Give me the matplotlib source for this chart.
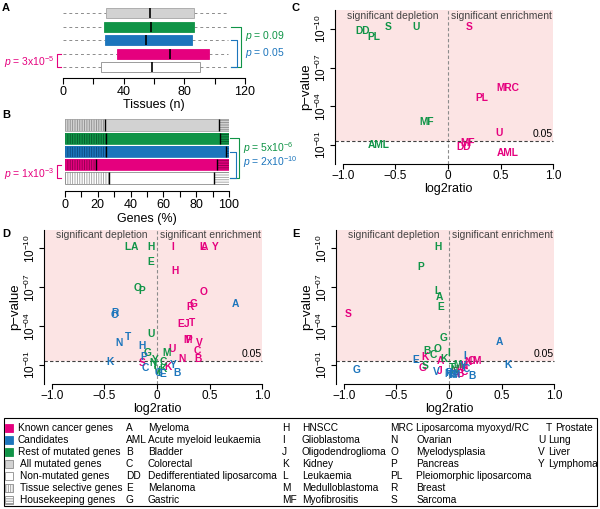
import matplotlib.pyplot as plt
from matplotlib.patches import Rectangle
from matplotlib.ticker import NullLocator
import numpy as np

plt.rcParams['font.family'] = ['Liberation Sans', 'DejaVu Sans']
plt.rcParams['mathtext.fontset'] = 'custom'
plt.rcParams['mathtext.rm'] = 'Liberation Sans'
plt.rcParams['mathtext.it'] = 'Liberation Sans:italic'
plt.rcParams['mathtext.bf'] = 'Liberation Sans:bold'
plt.rcParams['hatch.linewidth'] = 0.6
plt.rcParams['axes.linewidth'] = 0.8

W, H = 600, 509
PINK = '#E5007E'
BLUE = '#1C75BC'
GREEN = '#109447'
GREY = '#D2D2D2'
SHADE = '#FCE4E4'

# groups, top to bottom in panels A and B
group_names = ['All mutated genes', 'Rest of mutated genes', 'Candidates',
               'Known cancer genes', 'Non-mutated genes']
group_fill = [GREY, GREEN, BLUE, PINK, 'white']
group_edge = ['#A5A5A5', GREEN, BLUE, PINK, '#8C8C8C']
group_hatch = ['#8C8C8C', '#05582A', '#0B477D', '#8A004C', '#9C9C9C']

# A: tissues (n) in which the genes are expressed
tissue_q1 = [28.4, 27.2, 27.9, 35.4, 25.3]
tissue_med = [57.4, 57.8, 54.5, 70.8, 58.7]
tissue_q3 = [86.5, 86.5, 85.0, 96.5, 90.6]
tissue_min = [0, 0, 0, 0, 0]
tissue_max = [109, 109, 109, 109, 109]

# B: tissue selective / housekeeping share (%)
selective_pct = [24.4, 24.8, 25.0, 18.9, 26.6]
housekeeping_pct = [5.9, 5.5, 2.0, 7.5, 9.1]

a_pvals = ['0.09', '0.05', '3x10$^{-5}$']
b_pvals = ['5x10$^{-6}$', '2x10$^{-10}$', '1x10$^{-3}$']

# C: (labels, log2ratio, -log10 p)
c_known_lab = ['S', 'MRC', 'PL', 'U', 'MF', 'DD', 'AML']
c_known_x = [0.20, 0.57, 0.32, 0.49, 0.19, 0.15, 0.57]
c_known_y = [10.17, 5.44, 4.67, 1.90, 1.13, 0.82, 0.36]
c_rest_lab = ['DD', 'PL', 'S', 'U', 'MF', 'AML']
c_rest_x = [-0.81, -0.71, -0.57, -0.30, -0.20, -0.66]
c_rest_y = [9.84, 9.40, 10.17, 10.17, 2.81, 1.00]

# D
d_known_lab = ['I', 'L', 'A', 'Y', 'H', 'O', 'G', 'R', 'E', 'J', 'T', 'M', 'P',
               'V', 'C', 'U', 'N', 'B', 'S', 'K']
d_known_x = [0.146, 0.435, 0.448, 0.552, 0.171, 0.44, 0.346, 0.314, 0.226, 0.283,
             0.33, 0.29, 0.305, 0.40, 0.384, 0.146, 0.235, 0.387, -0.146, 0.108]
d_known_y = [10.1, 10.1, 10.1, 10.1, 8.23, 6.64, 5.67, 5.49, 4.13, 4.2,
             4.25, 2.92, 2.92, 2.72, 2.1, 2.2, 1.44, 1.44, 1.13, 0.87]
d_rest_lab = ['L', 'A', 'H', 'E', 'O', 'P', 'U', 'M', 'G', 'Y', 'C', 'N', 'T',
              'K', 'V', 'I']
d_rest_x = [-0.283, -0.216, -0.057, -0.057, -0.187, -0.146, -0.057, 0.092, -0.092,
            -0.019, 0.06, -0.035, -0.02, 0.054, 0.0, 0.02]
d_rest_y = [10.1, 10.1, 10.1, 8.95, 6.9, 6.69, 3.38, 1.95, 1.9,
            1.38, 1.25, 1.13, 0.95, 0.67, 0.55, 0.4]
d_cand_lab = ['A', 'R', 'O', 'T', 'N', 'H', 'P', 'K', 'C', 'Y', 'B', 'G', 'E']
d_cand_x = [0.743, -0.40, -0.40, -0.273, -0.362, -0.146, -0.13, -0.448, -0.114,
            0.155, 0.187, 0.013, 0.05]
d_cand_y = [5.67, 4.98, 4.86, 3.13, 2.72, 2.46, 1.64, 1.25, 0.79,
            1.0, 0.36, 0.36, 0.3]

# E
e_known_lab = ['S', 'K', 'A', 'G', 'J', 'M', 'O', 'N', 'H', 'U', 'I', 'B', 'E', 'C']
e_known_x = [-0.96, -0.229, -0.086, -0.254, -0.092, 0.264, 0.216, 0.184, 0.14,
             0.12, 0.08, 0.105, 0.06, 0.15]
e_known_y = [4.93, 1.64, 1.33, 0.75, 0.56, 1.33, 1.33, 1.25, 0.95,
             0.8, 0.6, 0.31, 0.45, 0.5]
e_rest_lab = ['H', 'P', 'L', 'A', 'E', 'G', 'O', 'B', 'C', 'I', 'K', 'S', 'M', 'T', 'N']
e_rest_x = [-0.108, -0.27, -0.111, -0.095, -0.076, -0.054, -0.111, -0.212, -0.15,
            -0.007, -0.048, -0.229, 0.08, 0.03, 0.05]
e_rest_y = [10.07, 8.58, 6.68, 6.22, 5.45, 3.06, 2.23, 2.05, 1.79,
            1.93, 1.46, 0.95, 1.02, 0.8, 0.6]
e_cand_lab = ['A', 'K', 'G', 'E', 'I', 'V', 'C', 'Y', 'B', 'N', 'T', 'U', 'M', 'H', 'R']
e_cand_x = [0.476, 0.565, -0.88, -0.314, 0.152, -0.117, 0.162, 0.136, 0.216,
            -0.01, 0.02, 0.04, 0.06, 0.03, 0.0]
e_cand_y = [2.75, 1.02, 0.61, 1.41, 1.67, 0.48, 0.69, 0.95, 0.18,
            0.3, 0.25, 0.3, 0.22, 0.2, 0.38]

key_labels = ['Known cancer genes', 'Candidates', 'Rest of mutated genes',
              'All mutated genes', 'Non-mutated genes', 'Tissue selective genes',
              'Housekeeping genes']
abbr_1 = ['A', 'AML', 'B', 'C', 'DD', 'E', 'G']
name_1 = ['Myeloma', 'Acute myeloid leukaemia', 'Bladder', 'Colorectal',
          'Dedifferentiated liposarcoma', 'Melanoma', 'Gastric']
abbr_2 = ['H', 'I', 'J', 'K', 'L', 'M', 'MF']
name_2 = ['HNSCC', 'Glioblastoma', 'Oligodendroglioma', 'Kidney', 'Leukaemia',
          'Medulloblastoma', 'Myofibrositis']
abbr_3 = ['MRC', 'N', 'O', 'P', 'PL', 'R', 'S']
name_3 = ['Liposarcoma myoxyd/RC', 'Ovarian', 'Myelodysplasia', 'Pancreas',
          'Pleiomorphic liposarcoma', 'Breast', 'Sarcoma']
abbr_4 = ['T', 'U', 'V', 'Y']
name_4 = ['Prostate', 'Lung', 'Liver', 'Lymphoma']


def px_axes(fig, x0, y0, x1, y1):
    return fig.add_axes([x0 / W, 1 - y1 / H, (x1 - x0) / W, (y1 - y0) / H])


def bracket(ax, x, x_in, k0, k1, color):
    ax.plot([x_in, x, x, x_in], [k0, k0, k1, k1], color=color, lw=0.8,
            clip_on=False)


def bottom_axis(ax, ticks, labels, xlabel):
    for s in ['left', 'top', 'right']:
        ax.spines[s].set_visible(False)
    ax.set_yticks([])
    ax.set_xticks(ticks, labels)
    ax.tick_params(axis='x', labelsize=9, length=4, width=0.8, pad=2)
    ax.set_xlabel(xlabel, fontsize=9, labelpad=1)


fig = plt.figure(figsize=(6, 5.09), dpi=100)
rows = np.arange(1, 6)

# ---- A
axA = px_axes(fig, 63, 4, 245, 77.6)
axA.set_xlim(0, 120)
axA.set_ylim(5.75, 0.3)
for k, fc, ec, q1, md, q3, lo, hi in zip(rows, group_fill, group_edge, tissue_q1,
                                         tissue_med, tissue_q3, tissue_min, tissue_max):
    axA.hlines(k, lo, q1, colors='#8C8C8C', linestyles=(0, (3, 3)), lw=0.7)
    axA.hlines(k, q3, hi, colors='#8C8C8C', linestyles=(0, (3, 3)), lw=0.7)
    axA.barh(k, q3 - q1, left=q1, height=0.74, facecolor=fc, edgecolor=ec,
             lw=0.6, zorder=2)
    axA.vlines(md, k - 0.37, k + 0.37, colors='black', lw=1.2, zorder=3)
bottom_axis(axA, np.arange(0, 121, 20), ['0', '', '40', '', '80', '', '120'],
            'Tissues (n)')
bracket(axA, 117.5, 111, 2, 5, GREEN)
bracket(axA, 114.5, 111, 3, 5, BLUE)
bracket(axA, -4, -1.3, 4, 5, PINK)
axA.text(120, 2.7, '$p$ = ' + a_pvals[0], color=GREEN, fontsize=7.5, va='center')
axA.text(120, 3.9, '$p$ = ' + a_pvals[1], color=BLUE, fontsize=7.5, va='center')
axA.text(-5.5, 4.6, '$p$ = ' + a_pvals[2], color=PINK, fontsize=7.5, va='center',
         ha='right')

# ---- B
axB = px_axes(fig, 65, 116, 229, 191)
axB.set_xlim(0, 100)
axB.set_ylim(5.98, 0.32)
for k, fc, ec, hc, sel, hk in zip(rows, group_fill, group_edge, group_hatch,
                                  selective_pct, housekeeping_pct):
    mid = 100 - sel - hk
    axB.barh(k, sel, left=0, height=0.86, facecolor=fc, edgecolor=hc,
             hatch='|||||||', lw=0)
    axB.barh(k, mid, left=sel, height=0.86, facecolor=fc, lw=0)
    axB.barh(k, hk, left=100 - hk, height=0.86, facecolor=fc, edgecolor=hc,
             hatch='-------', lw=0)
    axB.barh(k, 100, left=0, height=0.86, fill=False, edgecolor=ec, lw=0.6)
    axB.vlines([sel, 100 - hk], k - 0.43, k + 0.43, colors='black', lw=1.0)
bottom_axis(axB, np.arange(0, 101, 10),
            ['0', '', '20', '', '40', '', '60', '', '80', '', '100'], 'Genes (%)')
bracket(axB, 106.1, 100.8, 2, 5, GREEN)
bracket(axB, 104, 100.8, 3, 5, BLUE)
bracket(axB, -4.9, -2.4, 4, 5, PINK)
axB.text(108.5, 2.74, '$p$ = ' + b_pvals[0], color=GREEN, fontsize=7.5, va='center')
axB.text(108.5, 3.8, '$p$ = ' + b_pvals[1], color=BLUE, fontsize=7.5, va='center')
axB.text(-6.3, 4.7, '$p$ = ' + b_pvals[2], color=PINK, fontsize=7.5, va='center',
         ha='right')


# ---- volcano panels
def volcano(ax, series):
    ax.set_yscale('log')
    ax.set_xlim(-1.075, 1.075)
    ax.set_ylim(10 ** 0.44, 10 ** -11.44)
    frac = 2.075 / 2.15
    ax.axhspan(10 ** -11.44, 0.05, xmin=0, xmax=frac, color=SHADE, lw=0, zorder=0)
    ax.axvline(0, color='#8C8C8C', lw=0.8, ls=(0, (3, 2)), zorder=1)
    ax.axhline(0.05, xmin=0, xmax=frac, color='#404040', lw=0.8, ls=(0, (3, 2)),
               zorder=1)
    for labs, xs, ys, col in series:
        for lab, x, y in zip(labs, xs, ys):
            ax.text(x, 10 ** -y, lab, color=col, fontsize=7.4, fontweight='bold',
                    ha='center', va='center', zorder=3)
    ax.text(-0.53, 10 ** -11.0, 'significant depletion', color='#444444',
            fontsize=7.5, ha='center', va='center')
    ax.text(0.505, 10 ** -11.0, 'significant enrichment', color='#444444',
            fontsize=7.5, ha='center', va='center')
    ax.text(1.0, 10 ** -1.88, '0.05', fontsize=7.5, ha='right', va='center')
    ax.spines[['top', 'right']].set_visible(False)
    ax.spines['bottom'].set_bounds(-1, 1)
    ax.set_xticks([-1, -0.5, 0, 0.5, 1], ['\u22121.0', '\u22120.5', '0', '0.5', '1.0'])
    ax.set_yticks([1e-10, 1e-7, 1e-4, 1e-1],
                  ['10$^{-10}$', '10$^{-07}$', '10$^{-04}$', '10$^{-01}$'])
    ax.yaxis.set_minor_locator(NullLocator())
    for lbl in ax.get_yticklabels():
        lbl.set_rotation(90)
        lbl.set_va('center')
    ax.tick_params(labelsize=8.5, length=3.5, width=0.8, pad=1)
    ax.set_xlabel('log2ratio', fontsize=9, labelpad=1)
    ax.set_ylabel('p\u2212value', fontsize=9.5, labelpad=1)


axC = px_axes(fig, 335.1, 10.4, 560.9, 163.6)
volcano(axC, [(c_known_lab, c_known_x, c_known_y, PINK),
              (c_rest_lab, c_rest_x, c_rest_y, GREEN)])
axD = px_axes(fig, 44.1, 229.6, 269.9, 383.7)
volcano(axD, [(d_known_lab, d_known_x, d_known_y, PINK),
              (d_rest_lab, d_rest_x, d_rest_y, GREEN),
              (d_cand_lab, d_cand_x, d_cand_y, BLUE)])
axE = px_axes(fig, 336.1, 229.6, 561.9, 383.7)
volcano(axE, [(e_known_lab, e_known_x, e_known_y, PINK),
              (e_rest_lab, e_rest_x, e_rest_y, GREEN),
              (e_cand_lab, e_cand_x, e_cand_y, BLUE)])

# ---- overlay: panel letters and key
ov = fig.add_axes([0, 0, 1, 1])
ov.set_xlim(0, W)
ov.set_ylim(H, 0)
ov.axis('off')
for letter, (x, y) in zip('ABCDE', [(2, 3), (2, 110), (292, 3), (2, 229), (292, 229)]):
    ov.text(x, y, letter, fontsize=8, fontweight='bold', ha='left', va='top')

ov.add_patch(Rectangle((4, 418), 593, 88, fill=False, edgecolor='black', lw=0.8))
row_y = 428 + 12 * np.arange(7)
key_fill = [PINK, BLUE, GREEN, GREY, 'white', 'white', 'white']
key_edge = [PINK, BLUE, GREEN, '#8C8C8C', '#8C8C8C', '#8C8C8C', '#8C8C8C']
key_hatch = [None, None, None, None, None, '|||||||', '-------']
for i, (y, lab) in enumerate(zip(row_y, key_labels)):
    ov.add_patch(Rectangle((5, y - 4), 8, 8, facecolor=key_fill[i],
                           edgecolor=key_edge[i], hatch=key_hatch[i], lw=0.6))
    ov.text(17.5 if i < 3 else 20.5, y, lab, fontsize=7.3, va='center')
for y, a, n in zip(row_y, abbr_1, name_1):
    ov.text(126, y, a, fontsize=7.3, va='center')
    ov.text(148, y, n, fontsize=7.3, va='center')
for y, a, n in zip(row_y, abbr_2, name_2):
    ov.text(282, y, a, fontsize=7.3, va='center')
    ov.text(302, y, n, fontsize=7.3, va='center')
for y, a, n in zip(row_y, abbr_3, name_3):
    ov.text(390.5, y, a, fontsize=7.3, va='center')
    ov.text(416.5, y, n, fontsize=7.3, va='center')
for i, (y, a, n) in enumerate(zip(row_y, abbr_4, name_4)):
    ov.text(546 if i == 0 else 538, y, a, fontsize=7.3, va='center')
    ov.text(555 if i == 0 else 548, y, n, fontsize=7.3, va='center')

fig.savefig('out.png', dpi=100)
